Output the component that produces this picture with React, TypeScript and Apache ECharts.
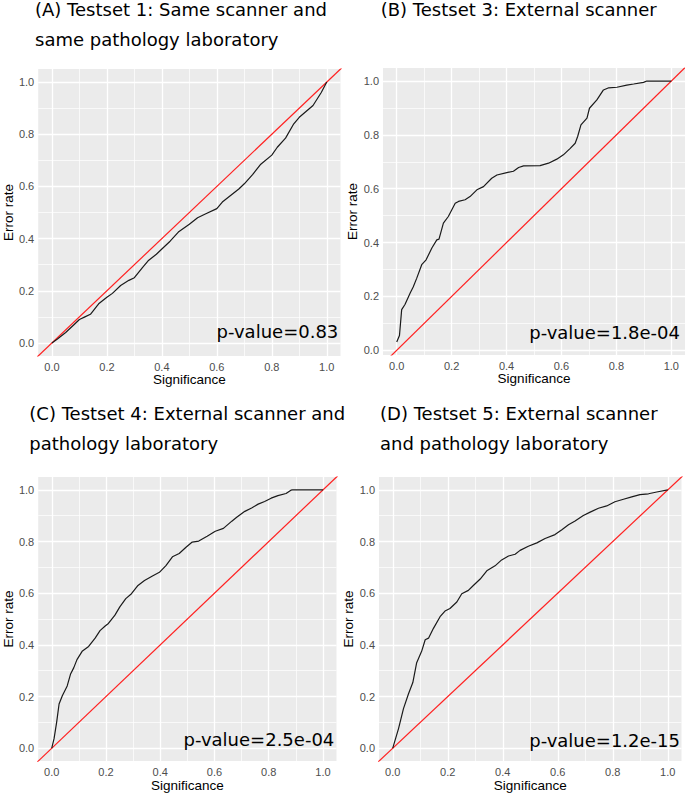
import React, { useEffect, useRef } from "react";
import * as echarts from "echarts";

// Panel A: Testset 1
const sigA = [0, 0.02, 0.05, 0.08, 0.1, 0.12, 0.14, 0.17, 0.2, 0.22, 0.25, 0.28, 0.3, 0.33, 0.35, 0.38, 0.4, 0.43, 0.46, 0.5, 0.53, 0.56, 0.6, 0.62, 0.65, 0.68, 0.7, 0.73, 0.76, 0.8, 0.82, 0.85, 0.88, 0.9, 0.95, 0.98, 1.0];
const errA = [0, 0.015, 0.04, 0.07, 0.09, 0.1, 0.11, 0.15, 0.175, 0.19, 0.22, 0.24, 0.25, 0.29, 0.315, 0.34, 0.36, 0.39, 0.425, 0.455, 0.48, 0.495, 0.515, 0.54, 0.565, 0.59, 0.61, 0.645, 0.685, 0.72, 0.75, 0.785, 0.84, 0.865, 0.91, 0.96, 1.0];

// Panel B: Testset 3
const sigB = [0, 0.01, 0.018, 0.03, 0.049, 0.06, 0.073, 0.091, 0.107, 0.128, 0.146, 0.154, 0.17, 0.188, 0.213, 0.225, 0.249, 0.267, 0.292, 0.316, 0.346, 0.365, 0.401, 0.425, 0.444, 0.462, 0.522, 0.553, 0.583, 0.607, 0.632, 0.65, 0.659, 0.671, 0.693, 0.702, 0.729, 0.753, 0.772, 0.802, 0.838, 0.863, 0.899, 0.911, 1.0];
const errB = [0.031, 0.055, 0.151, 0.17, 0.213, 0.235, 0.268, 0.318, 0.336, 0.38, 0.41, 0.413, 0.472, 0.497, 0.546, 0.553, 0.559, 0.571, 0.596, 0.608, 0.639, 0.651, 0.66, 0.665, 0.679, 0.685, 0.686, 0.695, 0.71, 0.726, 0.75, 0.769, 0.794, 0.837, 0.862, 0.899, 0.93, 0.967, 0.975, 0.977, 0.985, 0.989, 0.995, 1.0, 1.0];

// Panel C: Testset 4
const sigC = [0, 0.0085, 0.018, 0.027, 0.039, 0.057, 0.069, 0.081, 0.093, 0.112, 0.136, 0.16, 0.178, 0.197, 0.209, 0.233, 0.251, 0.273, 0.294, 0.318, 0.342, 0.373, 0.397, 0.421, 0.445, 0.47, 0.494, 0.518, 0.542, 0.573, 0.603, 0.633, 0.664, 0.682, 0.712, 0.737, 0.761, 0.785, 0.809, 0.834, 0.864, 0.882, 0.888, 1.0];
const errC = [0, 0.037, 0.1, 0.171, 0.203, 0.241, 0.286, 0.311, 0.343, 0.375, 0.394, 0.426, 0.455, 0.473, 0.483, 0.515, 0.547, 0.579, 0.598, 0.63, 0.649, 0.668, 0.681, 0.707, 0.741, 0.754, 0.777, 0.798, 0.802, 0.821, 0.84, 0.851, 0.879, 0.894, 0.917, 0.93, 0.945, 0.955, 0.968, 0.978, 0.986, 0.999, 1.0, 1.0];

// Panel D: Testset 5
const sigD = [0, 0.021, 0.039, 0.057, 0.073, 0.087, 0.105, 0.118, 0.13, 0.148, 0.172, 0.19, 0.208, 0.233, 0.251, 0.275, 0.293, 0.318, 0.342, 0.372, 0.396, 0.421, 0.445, 0.463, 0.493, 0.524, 0.554, 0.59, 0.615, 0.639, 0.663, 0.693, 0.718, 0.748, 0.778, 0.808, 0.839, 0.869, 0.899, 0.93, 0.96, 1.0];
const errD = [0, 0.076, 0.153, 0.21, 0.254, 0.331, 0.375, 0.42, 0.426, 0.464, 0.509, 0.531, 0.541, 0.566, 0.598, 0.611, 0.63, 0.655, 0.687, 0.706, 0.729, 0.744, 0.751, 0.766, 0.782, 0.795, 0.812, 0.827, 0.846, 0.865, 0.88, 0.901, 0.914, 0.929, 0.938, 0.954, 0.964, 0.973, 0.982, 0.985, 0.992, 1.0];

const majorTicks = [0, 0.2, 0.4, 0.6, 0.8, 1.0];
const minorTicks = [0.1, 0.3, 0.5, 0.7, 0.9];

const titleLines = [
  ["(A) Testset 1: Same scanner and", "same pathology laboratory"],
  ["(B) Testset 3: External scanner"],
  ["(C) Testset 4: External scanner and", "pathology laboratory"],
  ["(D) Testset 5: External scanner", "and pathology laboratory"],
];
const pValues = ["p-value=0.83", "p-value=1.8e-04", "p-value=2.5e-04", "p-value=1.2e-15"];

const panels = [
  { x: sigA, y: errA },
  { x: sigB, y: errB },
  { x: sigC, y: errC },
  { x: sigD, y: errD },
];

// layout (pixels)
const gridPos = [
  { left: 38, top: 69 },
  { left: 383, top: 68 },
  { left: 34, top: 477 },
  { left: 379, top: 477 },
];
const GW = 302.5;
const GH = 287;
const titlePos = [
  { x: 35, y1: 9.4, y2: 39.4 },
  { x: 380.7, y1: 9.4, y2: 39.4 },
  { x: 29.3, y1: 413, y2: 443 },
  { x: 380, y1: 413, y2: 443 },
];
const pPos = [
  { x: 338.3, y: 331.4 },
  { x: 680, y: 332 },
  { x: 334.3, y: 739.4 },
  { x: 680, y: 740.4 },
];

function expandRange(vals: number[]) {
  const lo = Math.min(...vals);
  const hi = Math.max(...vals);
  const pad = (hi - lo) * 0.05;
  return [lo - pad, hi + pad];
}

export default function App() {
  const ref = useRef<HTMLDivElement>(null);
  useEffect(() => {
    if (!ref.current) return;
    const chart = echarts.init(ref.current, null, { renderer: "svg" });
    const grids: any[] = [];
    const xAxes: any[] = [];
    const yAxes: any[] = [];
    const series: any[] = [];
    const graphic: any[] = [];
    const labelStyle = {
      color: "#4D4D4D",
      fontSize: 11,
      fontFamily: "Liberation Sans, Arial, sans-serif",
      formatter: (v: number) => v.toFixed(1),
      customValues: majorTicks,
    };
    const tickStyle = {
      show: true,
      customValues: majorTicks,
      length: 3,
      lineStyle: { color: "#333333", width: 1 },
    };
    const nameStyle = {
      color: "#000",
      fontSize: 13.5,
      fontFamily: "Liberation Sans, Arial, sans-serif",
    };
    const gridLineSeries = (i: number, vals: number[], width: number) => ({
      type: "line",
      xAxisIndex: i,
      yAxisIndex: i,
      data: [],
      silent: true,
      z: 1,
      markLine: {
        z: 1,
        silent: true,
        symbol: "none",
        label: { show: false },
        animation: false,
        emphasis: { disabled: true },
        lineStyle: { color: "#FFFFFF", width, type: "solid" },
        data: [
          ...vals.map((v) => ({ xAxis: v })),
          ...vals.map((v) => ({ yAxis: v })),
        ],
      },
    });
    panels.forEach((p, i) => {
      const [xmin, xmax] = expandRange(p.x);
      const [ymin, ymax] = expandRange(p.y);
      grids.push({
        left: gridPos[i].left,
        top: gridPos[i].top,
        width: GW,
        height: GH,
        show: true,
        backgroundColor: "#EBEBEB",
        borderWidth: 0,
        containLabel: false,
      });
      xAxes.push({
        gridIndex: i,
        type: "value",
        min: xmin,
        max: xmax,
        axisLine: { show: false },
        splitLine: { show: false },
        axisTick: tickStyle,
        axisLabel: { ...labelStyle, margin: 5 },
        name: "Significance",
        nameLocation: "middle",
        nameGap: 16,
        nameTextStyle: nameStyle,
      });
      yAxes.push({
        gridIndex: i,
        type: "value",
        min: ymin,
        max: ymax,
        axisLine: { show: false },
        splitLine: { show: false },
        axisTick: tickStyle,
        axisLabel: { ...labelStyle, margin: 4 },
        name: "Error rate",
        nameLocation: "middle",
        nameRotate: 90,
        nameGap: 22,
        nameTextStyle: nameStyle,
      });
      series.push(gridLineSeries(i, minorTicks, 0.7));
      series.push(gridLineSeries(i, majorTicks, 1.3));
      // diagonal reference
      series.push({
        type: "line",
        xAxisIndex: i,
        yAxisIndex: i,
        data: [
          [xmin - 0.1, xmin - 0.1],
          [xmax + 0.1, xmax + 0.1],
        ],
        showSymbol: false,
        symbol: "none",
        clip: true,
        silent: true,
        z: 8,
        lineStyle: { color: "#FF2020", width: 1.2 },
      });
      // curve
      series.push({
        type: "line",
        xAxisIndex: i,
        yAxisIndex: i,
        data: p.x.map((x, k) => [x, p.y[k]]),
        showSymbol: false,
        symbol: "none",
        clip: true,
        silent: true,
        z: 9,
        lineStyle: { color: "#1A1A1A", width: 1.2 },
      });
      titleLines[i].forEach((t, li) => {
        graphic.push({
          type: "text",
          x: titlePos[i].x,
          y: li === 0 ? titlePos[i].y1 : titlePos[i].y2,
          style: {
            text: t,
            fill: "#000",
            fontSize: 18,
            fontFamily: "DejaVu Sans",
            textAlign: "left",
            textVerticalAlign: "middle",
            align: "left",
            verticalAlign: "middle",
          },
        });
      });
      graphic.push({
        type: "text",
        x: pPos[i].x,
        y: pPos[i].y,
        z: 10,
        style: {
          text: pValues[i],
          fill: "#000",
          fontSize: 18,
          fontFamily: "DejaVu Sans",
          textAlign: "right",
          textVerticalAlign: "middle",
          align: "right",
          verticalAlign: "middle",
        },
      });
    });
    chart.setOption({
      animation: false,
      backgroundColor: "#FFFFFF",
      grid: grids,
      xAxis: xAxes,
      yAxis: yAxes,
      series,
      graphic,
    });
    return () => chart.dispose();
  }, []);
  return (
    <div
      ref={ref}
      style={{ position: "absolute", left: 0, top: 0, width: 685, height: 793 }}
    />
  );
}
